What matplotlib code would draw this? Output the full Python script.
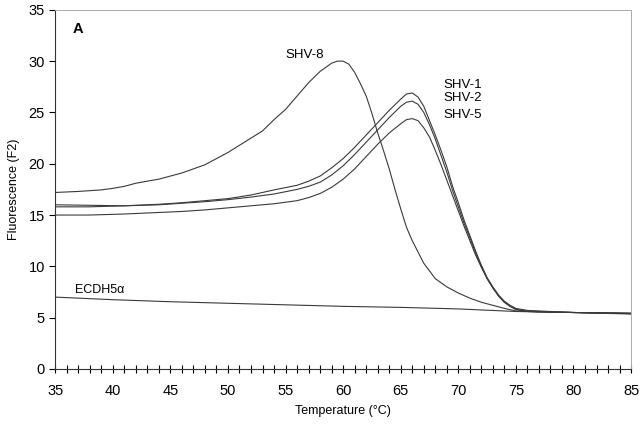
import matplotlib
matplotlib.use("Agg")
import matplotlib.pyplot as plt
from matplotlib.ticker import MultipleLocator

plt.rcParams['font.family'] = ['Liberation Sans', 'DejaVu Sans']

# Melting curve data (temperature in C, fluorescence F2)
shv8_t = [35, 37, 39, 40, 41, 42, 43, 44, 45, 46, 47, 48, 49, 50, 51, 52, 53, 54, 55, 56, 57, 58,
          59, 59.5, 60, 60.5, 61, 61.5, 62, 62.5, 63, 63.5, 64, 64.5, 65, 65.5, 66, 66.5, 67,
          68, 69, 70, 71, 72, 73, 74, 75, 77, 80, 85]
shv8_f = [17.2, 17.3, 17.45, 17.6, 17.8, 18.1, 18.3, 18.5, 18.8, 19.1, 19.5, 19.9, 20.5, 21.1, 21.8,
          22.5, 23.2, 24.3, 25.3, 26.6, 27.9, 29.0, 29.8, 30.0, 30.0, 29.7, 28.9, 27.8, 26.6, 24.9,
          23.0, 21.3, 19.5, 17.5, 15.6, 13.8, 12.5, 11.4, 10.3, 8.8, 8.0, 7.4, 6.9, 6.5, 6.2, 5.9,
          5.65, 5.55, 5.5, 5.4]

shv_t = [35, 38, 41, 44, 46, 48, 50, 52, 54, 56, 57, 58, 59, 60, 61, 62, 63, 64, 65, 65.5, 66,
         66.5, 67, 67.5, 68, 68.5, 69, 69.5, 70, 70.5, 71, 71.5, 72, 72.5, 73, 73.5, 74, 74.5,
         75, 76, 78, 80, 85]
shv1_f = [16.0, 15.95, 15.9, 16.05, 16.2, 16.4, 16.6, 16.95, 17.45, 17.9, 18.3, 18.8, 19.6, 20.5,
          21.6, 22.8, 24.0, 25.2, 26.3, 26.8, 26.9, 26.5, 25.6, 24.2, 22.8, 21.3, 19.7, 17.8, 16.2,
          14.5, 13.0, 11.5, 10.1, 8.9, 8.0, 7.2, 6.6, 6.2, 5.9, 5.7, 5.6, 5.5, 5.4]
shv2_f = [15.8, 15.8, 15.9, 16.0, 16.15, 16.3, 16.5, 16.75, 17.05, 17.5, 17.8, 18.2, 18.9, 19.8,
          20.9, 22.1, 23.3, 24.5, 25.6, 26.0, 26.1, 25.8, 25.0, 23.8, 22.4, 20.8, 19.2, 17.4, 15.8,
          14.2, 12.8, 11.3, 10.0, 8.8, 7.9, 7.1, 6.5, 6.1, 5.8, 5.65, 5.55, 5.5, 5.4]
shv5_f = [15.0, 15.0, 15.1, 15.25, 15.35, 15.5, 15.7, 15.9, 16.1, 16.4, 16.7, 17.1, 17.7, 18.5,
          19.5, 20.7, 21.9, 23.0, 23.9, 24.3, 24.4, 24.2, 23.5, 22.6, 21.3, 19.9, 18.4, 16.9, 15.4,
          13.9, 12.5, 11.1, 9.9, 8.8, 7.9, 7.1, 6.5, 6.1, 5.8, 5.6, 5.55, 5.5, 5.35]

ecdh_t = [35, 40, 45, 50, 55, 60, 65, 70, 75, 80, 85]
ecdh_f = [7.0, 6.75, 6.55, 6.4, 6.25, 6.1, 6.0, 5.85, 5.6, 5.5, 5.45]

line_color = '#3a3a3a'

fig = plt.figure(figsize=(6.42, 4.28), dpi=100)
ax = fig.add_axes([0.086, 0.138, 0.897, 0.839])

ax.plot(shv8_t, shv8_f, color=line_color, lw=0.8)
ax.plot(shv_t, shv1_f, color=line_color, lw=0.8)
ax.plot(shv_t, shv2_f, color=line_color, lw=0.8)
ax.plot(shv_t, shv5_f, color=line_color, lw=0.8)
ax.plot(ecdh_t, ecdh_f, color=line_color, lw=0.8)

# curve labels
ax.text(55.0, 30.6, "SHV-8", fontsize=9.5, ha='left', va='center')
ax.text(68.7, 27.7, "SHV-1", fontsize=9.5, ha='left', va='center')
ax.text(68.7, 26.4, "SHV-2", fontsize=9.5, ha='left', va='center')
ax.text(68.7, 24.75, "SHV-5", fontsize=9.5, ha='left', va='center')
ax.text(36.7, 7.7, "ECDH5\u03b1", fontsize=9, ha='left', va='center')
ax.text(36.5, 33.1, "A", fontsize=10.5, fontweight='bold', ha='left', va='center')

ax.set_xlim(35, 85)
ax.set_ylim(0, 35)
ax.xaxis.set_major_locator(MultipleLocator(5))
ax.xaxis.set_minor_locator(MultipleLocator(1))
ax.yaxis.set_major_locator(MultipleLocator(5))
ax.tick_params(axis='x', which='both', direction='inout', length=6, width=0.8, labelsize=10.5, pad=8)
ax.tick_params(axis='y', which='major', direction='out', length=4, width=0.8, labelsize=10.5)

ax.set_xlabel("Temperature (\u00b0C)", fontsize=9, labelpad=5)
ax.set_ylabel("Fluorescence (F2)", fontsize=9, labelpad=6)

for side in ['left', 'bottom']:
    ax.spines[side].set_color('#333333')
    ax.spines[side].set_linewidth(0.8)
for side in ['top', 'right']:
    ax.spines[side].set_color('#aaaaaa')
    ax.spines[side].set_linewidth(0.7)

fig.savefig("out.png", dpi=100)
